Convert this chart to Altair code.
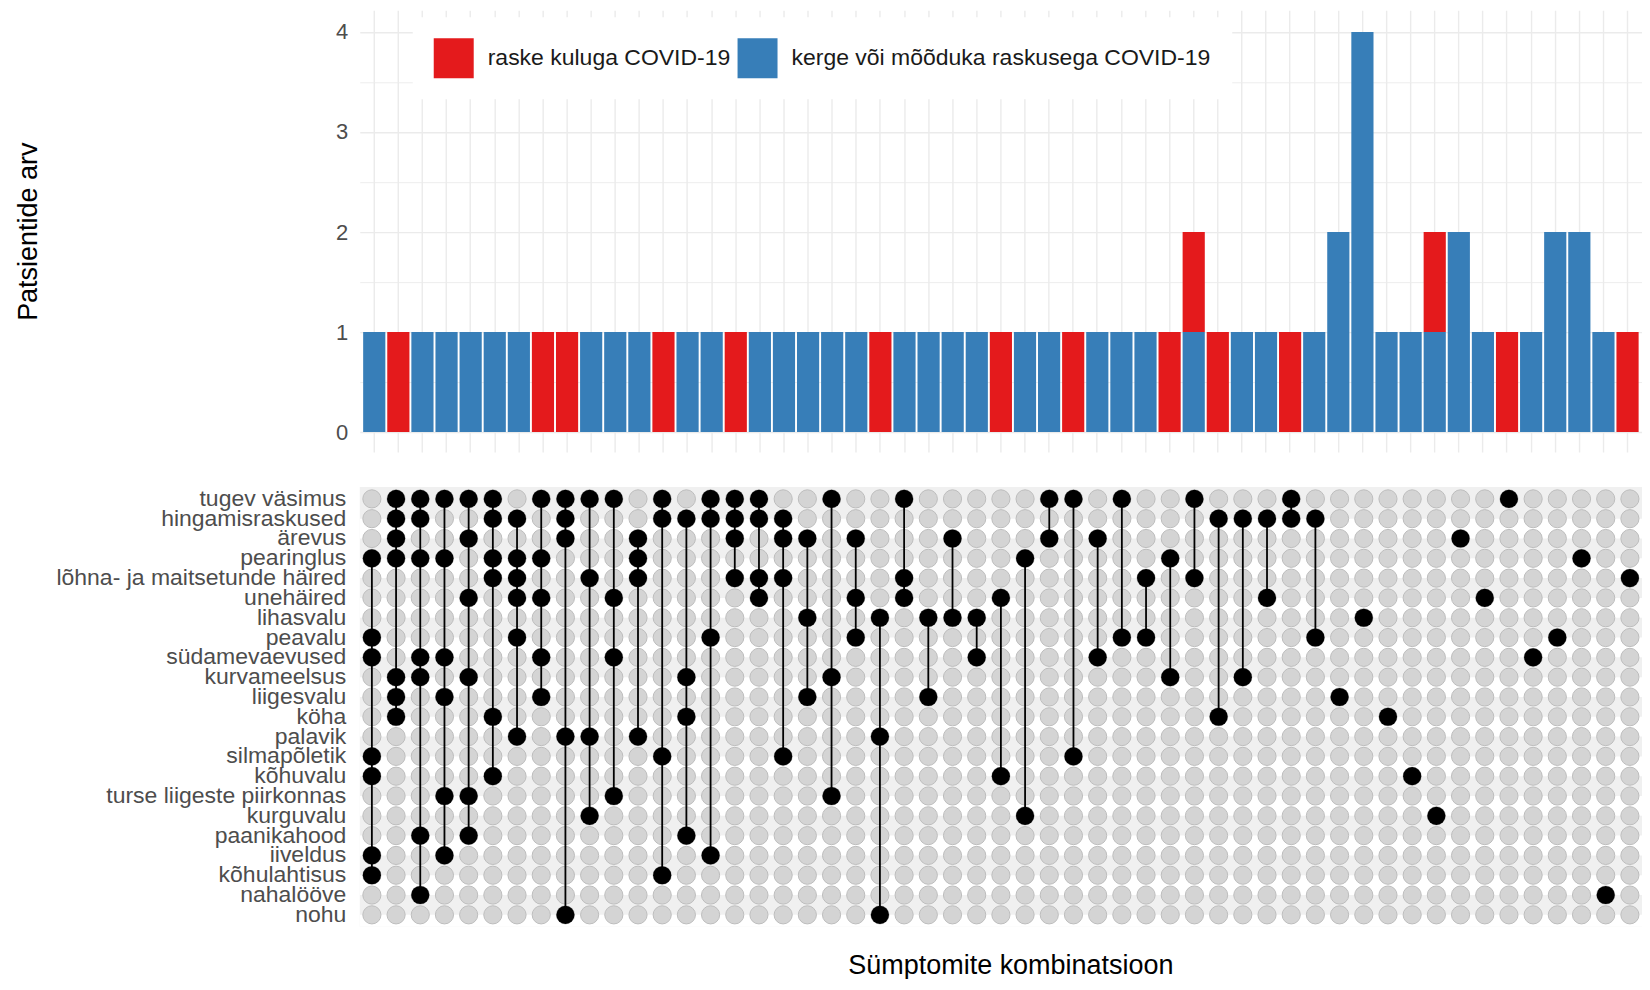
import altair as alt
import pandas as pd

# ---------------- data ----------------
symptoms = [
    "tugev väsimus", "hingamisraskused", "ärevus", "pearinglus",
    "lõhna- ja maitsetunde häired", "unehäired", "lihasvalu", "peavalu",
    "südamevaevused", "kurvameelsus", "liigesvalu", "köha", "palavik",
    "silmapõletik", "kõhuvalu", "turse liigeste piirkonnas", "kurguvalu",
    "paanikahood", "iiveldus", "kõhulahtisus", "nahalööve", "nohu",
]

# symptoms (row indices into `symptoms`) present in each combination, left to right
combo_rows = [
    [3, 7, 8, 13, 14, 18, 19], [0, 1, 2, 3, 9, 10, 11], [0, 1, 3, 8, 9, 17, 20],
    [0, 3, 8, 10, 15, 18], [0, 2, 5, 9, 15, 17], [0, 1, 3, 4, 11, 14],
    [1, 3, 4, 5, 7, 12], [0, 3, 5, 8, 10], [0, 1, 2, 12, 21], [0, 4, 12, 16],
    [0, 5, 8, 15], [2, 3, 4, 12], [0, 1, 13, 19], [1, 9, 11, 17], [0, 1, 7, 18],
    [0, 1, 2, 4], [0, 1, 4, 5], [1, 2, 4, 13], [2, 6, 10], [0, 9, 15], [2, 5, 7],
    [6, 12, 21], [0, 4, 5], [6, 10], [2, 6], [6, 8], [5, 14], [3, 16], [0, 2],
    [0, 13], [2, 8], [0, 7], [4, 7], [3, 9], [0, 4], [1, 11], [1, 9], [1, 5],
    [0, 1], [1, 7], [10], [6], [11], [14], [16], [2], [5], [0], [8], [7], [3],
    [20], [4],
]

mild_counts = [1, 0, 1, 1, 1, 1, 1, 0, 0, 1,
               1, 1, 0, 1, 1, 0, 1, 1, 1, 1,
               1, 0, 1, 1, 1, 1, 0, 1, 1, 0,
               1, 1, 1, 0, 1, 0, 1, 1, 0, 1,
               2, 4, 1, 1, 1, 2, 1, 0, 1, 2,
               2, 1, 0]
severe_counts = [0, 1, 0, 0, 0, 0, 0, 1, 1, 0,
                 0, 0, 1, 0, 0, 1, 0, 0, 0, 0,
                 0, 1, 0, 0, 0, 0, 1, 0, 0, 1,
                 0, 0, 0, 1, 1, 1, 0, 0, 1, 0,
                 0, 0, 0, 0, 1, 0, 0, 1, 0, 0,
                 0, 0, 1]

SEVERE = "raske kuluga COVID-19"
MILD = "kerge või mõõduka raskusega COVID-19"
group_names = [SEVERE, MILD]
group_colors = ["#E41A1C", "#377EB8"]
y_ticks = [0, 0.5, 1, 1.5, 2, 2.5, 3, 3.5, 4]

# ---------------- tables built from the arrays ----------------
col_ids = list(range(len(combo_rows)))

bar_rows = []
for i in col_ids:
    bar_rows.append({"col": i, "grp": MILD, "ord": 0, "n": mild_counts[i]})
    bar_rows.append({"col": i, "grp": SEVERE, "ord": 1, "n": severe_counts[i]})
bars = pd.DataFrame(bar_rows)
bars = bars[bars["n"] > 0]

cells = pd.DataFrame([
    {"col": i, "sym": s, "row": r, "on": r in combo_rows[i]}
    for i in col_ids for r, s in enumerate(symptoms)
])
on_cells = cells[cells["on"]]
stripe_df = pd.DataFrame({"sym": [symptoms[r] for r in range(1, len(symptoms), 2)]})

# ---------------- layout constants ----------------
W = 1283
H_TOP = 442
H_MAT = 440
ROW_STEP = H_MAT / (len(symptoms) + 0.2)
FONT = "Liberation Sans"

x_scale = alt.Scale(domain=col_ids, paddingInner=0.08, paddingOuter=0.14)
y_mat_scale = alt.Scale(domain=symptoms, paddingInner=0, paddingOuter=0.1)

# ---------------- top: stacked bars ----------------
x_top_axis = alt.Axis(labels=False, ticks=False, domain=False, title=None,
                      grid=True, gridColor="#ebebeb", gridWidth=1.4)
y_top_axis = alt.Axis(
    values=y_ticks,
    labelExpr="datum.value % 1 === 0 ? format(datum.value, 'd') : ''",
    labelOverlap=False,
    grid=True, gridColor="#ebebeb",
    gridWidth={"condition": {"test": "datum.value % 1 === 0", "value": 1.4}, "value": 0.9},
    ticks=False, domain=False,
    labelFontSize=22, labelColor="#4d4d4d", labelPadding=12,
    title="Patsientide arv", titleFontSize=27, titleFontWeight="normal",
    titleColor="black", titleX=-331, titleY=221,
    titleBaseline="middle", titleAlign="center",
)

top = alt.Chart(bars).mark_bar().encode(
    x=alt.X("col:O", scale=x_scale, axis=x_top_axis),
    y=alt.Y("n:Q", stack="zero",
            scale=alt.Scale(domain=[-0.2, 4.217], nice=False, zero=False),
            axis=y_top_axis),
    color=alt.Color(
        "grp:N",
        scale=alt.Scale(domain=group_names, range=group_colors),
        legend=alt.Legend(
            title=None, orient="none", legendX=53, legendY=7,
            direction="horizontal", symbolType="square", symbolSize=1600,
            symbolStrokeWidth=0, symbolOpacity=1,
            labelFontSize=23, labelColor="#1a1a1a", labelOffset=14,
            labelLimit=700, columnPadding=7, fillColor="white", padding=21,
        ),
    ),
    order=alt.Order("ord:Q", sort="ascending"),
).properties(width=W, height=H_TOP)

# ---------------- bottom: combination matrix ----------------
x_mat_axis = alt.Axis(
    title="Sümptomite kombinatsioon", labels=False, ticks=False, domain=False,
    grid=False, titleFontSize=27, titleFontWeight="normal", titleColor="black",
    titlePadding=26, titleX=651, titleAlign="center",
)
y_mat_axis = alt.Axis(
    title=None, labelFontSize=23, labelColor="#4d4d4d", labelPadding=14,
    ticks=False, domain=False, grid=False, labelLimit=0,
)

bg = alt.Chart(alt.Data(values=[{}])).mark_rect(color="#f0f0f0").encode(
    x=alt.value(0), x2=alt.value("width"), y=alt.value(0), y2=alt.value("height")
)

stripes = alt.Chart(stripe_df).mark_rect(
    color="white", yOffset=ROW_STEP / 2, clip=True
).encode(
    y=alt.Y("sym:N", scale=y_mat_scale, sort=symptoms, axis=y_mat_axis),
    x=alt.value(0), x2=alt.value("width"),
)

dots_off = alt.Chart(cells).mark_point(
    shape="circle", filled=True, size=330, fill="#d4d4d4",
    stroke="#bdbdbd", strokeWidth=1, opacity=1,
).encode(
    x=alt.X("col:O", scale=x_scale, axis=x_mat_axis),
    y=alt.Y("sym:N", scale=y_mat_scale, sort=symptoms, axis=y_mat_axis),
)

links = alt.Chart(on_cells).mark_line(color="black", strokeWidth=1.8).encode(
    x=alt.X("col:O", scale=x_scale, axis=x_mat_axis),
    y=alt.Y("sym:N", scale=y_mat_scale, sort=symptoms, axis=y_mat_axis),
    detail="col:N",
    order=alt.Order("row:Q"),
)

dots_on = alt.Chart(on_cells).mark_point(
    shape="circle", filled=True, size=330, color="black", opacity=1,
).encode(
    x=alt.X("col:O", scale=x_scale, axis=x_mat_axis),
    y=alt.Y("sym:N", scale=y_mat_scale, sort=symptoms, axis=y_mat_axis),
)

matrix = alt.layer(bg, stripes, dots_off, links, dots_on).properties(
    width=W, height=H_MAT
)

chart = (
    alt.vconcat(top, matrix, spacing=35)
    .resolve_scale(color="independent")
    .resolve_legend(color="independent")
    .properties(padding={"left": 7, "top": 2, "right": 0, "bottom": 0})
    .configure(font=FONT)
    .configure_view(stroke=None)
)

chart.save("out.html", embed_options={"renderer": "svg", "actions": False})
